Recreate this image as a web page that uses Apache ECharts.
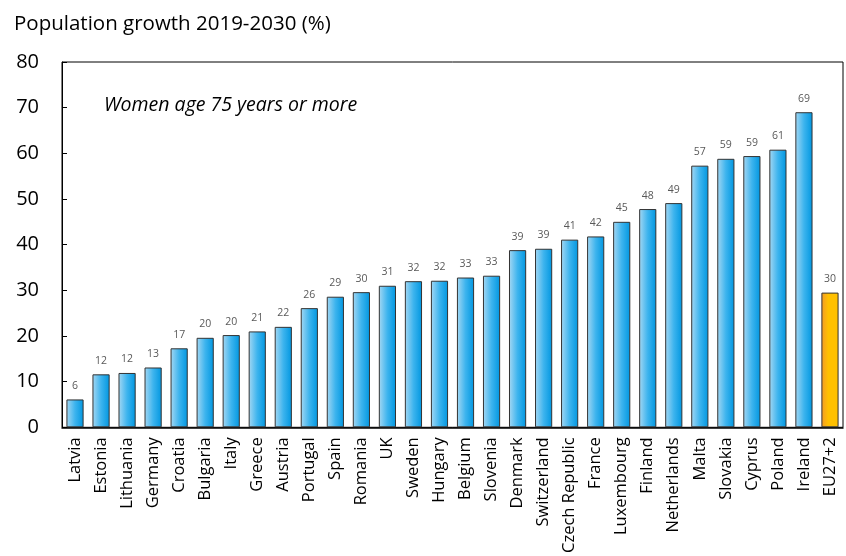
<!DOCTYPE html>
<html><head><meta charset="utf-8">
<script src="https://cdn.jsdelivr.net/npm/echarts@6/dist/echarts.min.js"></script>
<style>html,body{margin:0;padding:0;background:#fff}#c{width:846px;height:556px}</style>
</head><body><div id="c"></div>
<script>
const categories = ["Latvia","Estonia","Lithuania","Germany","Croatia","Bulgaria","Italy","Greece","Austria","Portugal","Spain","Romania","UK","Sweden","Hungary","Belgium","Slovenia","Denmark","Switzerland","Czech Republic","France","Luxembourg","Finland","Netherlands","Malta","Slovakia","Cyprus","Poland","Ireland","EU27+2"];
const values = [6.1,11.6,11.9,13.1,17.3,19.6,20.2,21.0,22.0,26.1,28.6,29.6,31.0,32.0,32.1,32.8,33.2,38.8,39.1,41.1,41.8,45.0,47.8,49.1,57.3,58.8,59.4,60.8,69.0,29.5];
const highlight = "EU27+2";
const yTicks = {min:0, max:80, interval:10};
const titleText = "Population growth 2019-2030 (%)";
const noteText = "Women age 75 years or more";

const FONT = "Open Sans";
const blue = {type:'linear',x:0,y:0,x2:1,y2:0,colorStops:[{offset:0,color:'#a6d8f3'},{offset:0.5,color:'#3db4ee'},{offset:1,color:'#0096e0'}]};
const orange = {type:'linear',x:0,y:0,x2:1,y2:0,colorStops:[{offset:0,color:'#f39a2a'},{offset:0.4,color:'#ffc000'},{offset:1,color:'#ffc000'}]};

const chart = echarts.init(document.getElementById('c'), null, {renderer:'canvas'});
chart.setOption({
  animation:false,
  title:{text:titleText,left:9,top:9,textStyle:{fontFamily:FONT,fontSize:20.5,fontWeight:'normal',color:'#000'}},
  graphic:[{type:'text',left:104,top:95,style:{text:noteText,font:'italic 19.5px "'+FONT+'"',fill:'#000'}}],
  grid:{left:62,right:3,top:62,bottom:128,show:true,borderColor:'#000',borderWidth:1},
  xAxis:{type:'category',data:categories,
    axisLine:{lineStyle:{color:'#000',width:1.5}},axisTick:{show:false},
    axisLabel:{rotate:90,interval:0,fontFamily:FONT,fontSize:16.5,color:'#000',margin:10}},
  yAxis:{type:'value',min:yTicks.min,max:yTicks.max,interval:yTicks.interval,
    splitLine:{show:false},
    axisLine:{show:true,lineStyle:{color:'#000',width:1}},
    axisTick:{show:true,inside:true,length:5,lineStyle:{color:'#000'}},
    axisLabel:{fontFamily:FONT,fontSize:20,color:'#000',margin:23}},
  series:[{type:'bar',barCategoryGap:'34%',
    data:values.map((v,i)=>({value:v,itemStyle:{color:categories[i]===highlight?orange:blue}})),
    itemStyle:{borderColor:'#333',borderWidth:1},
    label:{show:true,position:'top',distance:8,fontFamily:FONT,fontSize:10.5,color:'#595959',formatter:p=>Math.round(p.value)}
  }]
});
</script></body></html>
